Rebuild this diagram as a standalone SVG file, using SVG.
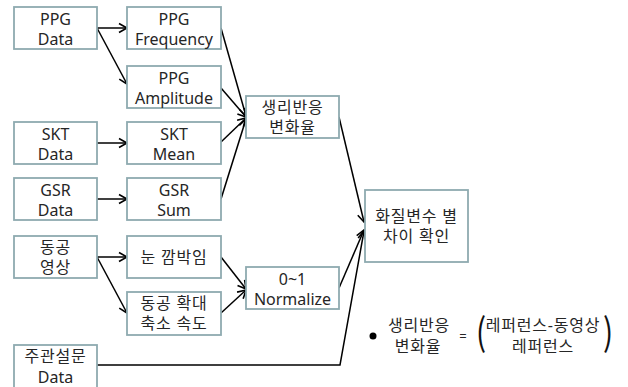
<svg xmlns="http://www.w3.org/2000/svg" width="628" height="387" viewBox="0 0 628 387">
<defs>
<style>
.box{fill:#fff;stroke:#8eaab0;stroke-width:1.8}
.t{font-family:"Noto Sans","Noto Sans CJK KR",sans-serif;font-size:16px;fill:#262626;text-anchor:middle}
.k{font-family:"Noto Sans","Noto Sans CJK KR",sans-serif;font-size:16px;letter-spacing:0.8px;fill:#262626;text-anchor:middle}
.c{fill:none;stroke:#000;stroke-width:1.5}
.p{font-family:"Noto Sans CJK KR",sans-serif;fill:#111;text-anchor:middle;font-size:30px}
</style>
<marker id="ah" markerUnits="userSpaceOnUse" markerWidth="12" markerHeight="12" viewBox="0 0 12 12" refX="10" refY="6" orient="auto">
<path d="M2,1.5 L10,6 L2,10.5" fill="none" stroke="#000" stroke-width="1.6"/>
</marker>
</defs>
<rect width="628" height="387" fill="#fff"/>
<g id="connectors">
<line class="c" x1="97" y1="28" x2="127" y2="28" marker-end="url(#ah)"/>
<line class="c" x1="97" y1="28" x2="127" y2="84" marker-end="url(#ah)"/>
<line class="c" x1="221" y1="28" x2="246" y2="116" marker-end="url(#ah)"/>
<line class="c" x1="221" y1="88" x2="246" y2="117" marker-end="url(#ah)"/>
<line class="c" x1="97" y1="143" x2="127" y2="143" marker-end="url(#ah)"/>
<line class="c" x1="221" y1="142" x2="246" y2="118" marker-end="url(#ah)"/>
<line class="c" x1="97" y1="199" x2="127" y2="199" marker-end="url(#ah)"/>
<line class="c" x1="221" y1="199" x2="246" y2="119" marker-end="url(#ah)"/>
<line class="c" x1="97" y1="257" x2="127" y2="257" marker-end="url(#ah)"/>
<line class="c" x1="97" y1="257" x2="127" y2="313" marker-end="url(#ah)"/>
<line class="c" x1="221" y1="257" x2="246" y2="289" marker-end="url(#ah)"/>
<line class="c" x1="221" y1="313" x2="246" y2="290" marker-end="url(#ah)"/>
<line class="c" x1="339" y1="117" x2="364" y2="222" marker-end="url(#ah)"/>
<line class="c" x1="339" y1="288" x2="364" y2="230" marker-end="url(#ah)"/>
<polyline class="c" points="97,365 340,365 364,231" marker-end="url(#ah)"/>
</g>
<g id="ppg-data"><rect class="box" x="14" y="7" width="83" height="42"/><text class="t" x="55.5" y="25">PPG</text><text class="t" x="55.5" y="45">Data</text></g>
<g id="ppg-frequency"><rect class="box" x="127" y="7" width="94" height="42"/><text class="t" x="174" y="25">PPG</text><text class="t" x="174" y="45">Frequency</text></g>
<g id="ppg-amplitude"><rect class="box" x="127" y="66" width="94" height="42"/><text class="t" x="174" y="84">PPG</text><text class="t" x="174" y="104">Amplitude</text></g>
<g id="skt-data"><rect class="box" x="14" y="122" width="83" height="42"/><text class="t" x="55.5" y="140">SKT</text><text class="t" x="55.5" y="160">Data</text></g>
<g id="skt-mean"><rect class="box" x="127" y="122" width="94" height="42"/><text class="t" x="174" y="140">SKT</text><text class="t" x="174" y="160">Mean</text></g>
<g id="gsr-data"><rect class="box" x="14" y="178" width="83" height="42"/><text class="t" x="55.5" y="196">GSR</text><text class="t" x="55.5" y="216">Data</text></g>
<g id="gsr-sum"><rect class="box" x="127" y="178" width="94" height="42"/><text class="t" x="174" y="196">GSR</text><text class="t" x="174" y="216">Sum</text></g>
<g id="pupil-video"><rect class="box" x="14" y="236" width="83" height="42"/><text class="k" x="55.5" y="253">동공</text><text class="k" x="55.5" y="273">영상</text></g>
<g id="blink"><rect class="box" x="127" y="236" width="94" height="42"/><text class="k" x="174" y="263">눈 깜박임</text></g>
<g id="pupil-speed"><rect class="box" x="127" y="292" width="94" height="43"/><text class="k" x="174" y="309">동공 확대</text><text class="k" x="174" y="329">축소 속도</text></g>
<g id="survey-data"><rect class="box" x="14" y="345" width="83" height="44"/><text class="k" x="55.5" y="362">주관설문</text><text class="t" x="55.5" y="383">Data</text></g>
<g id="physio-change"><rect class="box" x="246" y="96" width="93" height="42"/><text class="k" x="292.5" y="113">생리반응</text><text class="k" x="292.5" y="133">변화율</text></g>
<g id="normalize"><rect class="box" x="246" y="267" width="93" height="42"/><text class="t" x="292.5" y="285">0~1</text><text class="t" x="292.5" y="305">Normalize</text></g>
<g id="quality-diff"><rect class="box" x="365" y="190" width="103" height="72"/><text class="k" x="416.5" y="222">화질변수 별</text><text class="k" x="416.5" y="242">차이 확인</text></g>
<g id="formula">
<circle cx="373" cy="336" r="3.5" fill="#000"/>
<text class="k" x="419" y="331">생리반응</text>
<text class="k" x="418" y="352">변화율</text>
<text class="t" x="463" y="341" style="font-size:13px">=</text>
<text class="p" transform="translate(481 346) scale(1 1.25)">(</text>
<text class="k" x="543" y="331">레퍼런스-동영상</text>
<text class="k" x="543" y="352">레퍼런스</text>
<text class="p" transform="translate(608 346) scale(1 1.25)">)</text>
</g>
</svg>
